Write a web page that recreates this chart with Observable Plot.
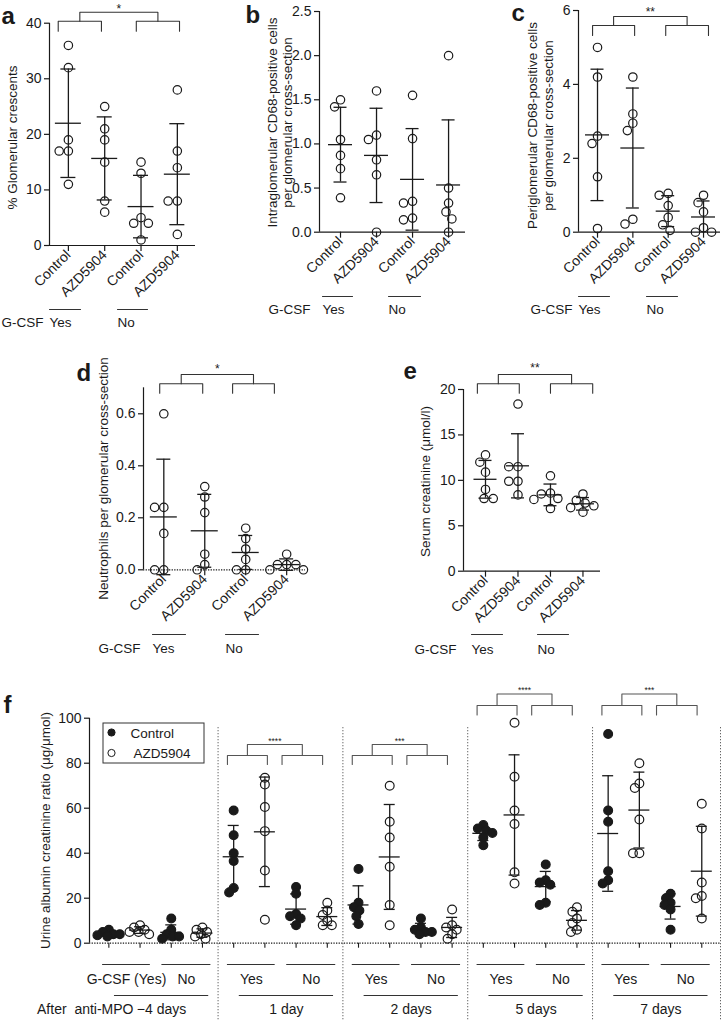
<!DOCTYPE html>
<html><head><meta charset="utf-8">
<script src="https://cdn.jsdelivr.net/npm/d3@7"></script>
<script src="https://cdn.jsdelivr.net/npm/@observablehq/plot@0.6"></script>
<style>
body{margin:0;background:#fff;}
#fig{position:relative;width:722px;height:1021px;overflow:hidden;background:#fff;}
#fig svg{position:absolute;left:0;top:0;}
</style></head><body><div id="fig"></div>
<script>
// ---------------- data ----------------
const catLabels = ["Control", "AZD5904", "Control", "AZD5904"];
const gcsfLabels = ["Yes", "No"];
// each panel: [Control/G-CSF yes, AZD5904/G-CSF yes, Control/no G-CSF, AZD5904/no G-CSF]
const crescents = [[36, 32, 19, 17, 17, 11], [25, 21, 19, 15, 8, 6], [15, 13, 5, 4, 4, 1], [28, 17, 14, 8, 8, 2]];
const intraCD68 = [[1.5, 1.42, 1.05, 0.87, 0.72, 0.39], [1.6, 1.1, 1.05, 0.82, 0.65, 0], [1.55, 1.06, 0.35, 0.33, 0.16, 0.14], [2.0, 0.5, 0.33, 0.23, 0.15, 0]];
const periCD68 = [[5, 4.2, 2.6, 2.4, 1.5, 0.1], [4.2, 3.2, 2.95, 2.75, 0.35, 0.22], [1.05, 1.0, 0.72, 0.4, 0.2, 0.05], [1.0, 0.8, 0.55, 0.12, 0, 0]];
const neutrophils = [[0.6, 0.24, 0.24, 0.14, 0, 0], [0.32, 0.28, 0.22, 0.06, 0.02, 0], [0.16, 0.12, 0.08, 0.04, 0, 0], [0.06, 0.02, 0.02, 0.02, 0, 0]];
const creatinine = [[12.8, 12, 10.9, 9, 8, 8], [18.4, 11.5, 11.5, 9.9, 9.9, 8.4], [10.5, 8.6, 8.5, 8, 7.9, 6.9], [8.5, 7.8, 7.5, 7.2, 7, 6.5]];
const panelStars = {a: "*", c: "**", d: "*", e: "**"};

// panel f: urine albumin creatinine ratio by time point
const timeLabels = ["\u22124 days", "1 day", "2 days", "5 days", "7 days"];
const fYesLabels = ["G-CSF (Yes)", "Yes", "Yes", "Yes", "Yes"];
const fNoLabels = ["No", "No", "No", "No", "No"];
const fStars = ["", "****", "***", "****", "***"];
const uacrControlYes = [[6, 5, 4, 4, 3.5, 3], [59, 48, 40, 36.5, 24.5, 22.5], [33, 18, 16, 14.5, 12, 8.5], [52.5, 51, 50, 49, 47, 43.5], [93, 59, 54, 32, 28, 26.5]];
const uacrAZDYes = [[8, 7, 6, 5, 5, 4], [73.5, 70.5, 60.5, 49.8, 32.3, 10.4], [70, 54, 47, 34, 17, 8], [98, 74, 59, 53, 31.5, 26.5], [80, 71, 69, 55, 40, 40]];
const uacrControlNo = [[11, 6, 4, 3, 3, 2], [25, 22, 13, 12, 11, 8], [11, 7, 6, 5, 5, 4], [35, 28, 27, 26, 18, 17], [22, 20, 18, 17, 15, 6]];
const uacrAZDNo = [[7, 6, 5, 4, 3, 2], [18, 14.5, 12.5, 10, 8, 8], [15, 8, 7, 6, 4, 2], [16, 14, 11, 9, 6, 5], [62, 51, 27, 21, 20, 11]];

// ---------------- layout helpers ----------------
const W = 722, H = 1021;
const FONT = '"Liberation Sans", Arial, Helvetica, sans-serif';
const NARROW = '"Liberation Sans Narrow", "Arial Narrow", "Liberation Sans", Arial, sans-serif';
const INK = "#1a1a1a";
const fig = document.getElementById("fig");

function swarm(values, ky, r) {
  const order = values.map((v, k) => k).sort((a, b) => values[b] - values[a]);
  const placed = [];
  const d2 = 4 * r * r;
  for (const k of order) {
    const py = values[k] * ky;
    const cands = [0];
    for (const q of placed) {
      const dy = q.py - py;
      if (dy * dy < d2) { const dx = Math.sqrt(d2 - dy * dy); cands.push(q.dx - dx, q.dx + dx); }
    }
    cands.sort((a, b) => Math.abs(a) - Math.abs(b) || a - b);
    const c = cands.find(c => placed.every(q => (q.dx - c) ** 2 + (q.py - py) ** 2 >= d2 - 0.01));
    placed.push({v: values[k], py, dx: c ?? 0});
  }
  return placed;
}

function build(cfg) {
  const {x0, x1, y0, y1, xd, yd} = cfg;
  const kx = (x1 - x0) / (xd[1] - xd[0]);
  const ky = (y0 - y1) / (yd[1] - yd[0]);
  const ix = px => xd[0] + (px - x0) / kx;
  const iy = py => yd[0] + (y0 - py) / ky;
  const points = [], stats = [];
  for (const s of cfg.series) {
    const placed = swarm(s.values, ky, cfg.sr ?? cfg.r + 0.4);
    for (const p of placed) points.push({x: s.i + p.dx / kx, y: p.v, filled: s.filled});
    const mean = d3.mean(s.values), sd = d3.deviation(s.values);
    let lo = mean - sd;
    const hi = mean + sd;
    let loCap = true;
    if (cfg.clipLo && lo < yd[0]) { lo = yd[0]; loCap = false; }
    stats.push({x: s.i, mean, lo, hi, loCap});
  }
  const mh = cfg.meanHalf / kx, ch = cfg.capHalf / kx;
  const ctx = {
    ix, iy, kx, ky,
    T: (px, py, t, o = {}) => Plot.text([{x: ix(px), y: iy(py), t}], {x: "x", y: "y", text: "t", fontSize: 13.5, fill: INK, lineAnchor: "bottom", ...o}),
    L: (pts, o = {}) => Plot.line(pts.map(([px, py]) => ({x: ix(px), y: iy(py)})), {x: "x", y: "y", stroke: INK, strokeWidth: 1.1, ...o}),
    bracket: (xs, yb, yh, yt, star, sy, o = {}) => {
      const [l1, r1, l2, r2] = xs;
      const m1 = (l1 + r1) / 2, m2 = (l2 + r2) / 2;
      const pts = [
        [0, l1, yb], [0, l1, yh], [0, r1, yh], [0, r1, yb],
        [1, l2, yb], [1, l2, yh], [1, r2, yh], [1, r2, yb],
        [2, m1, yh], [2, m1, yt], [2, m2, yt], [2, m2, yh]
      ].map(([z, x, py]) => ({z, x, y: iy(py)}));
      return [
        Plot.line(pts, {x: "x", y: "y", z: "z", stroke: o.stroke ?? "#333", strokeWidth: 1.1}),
        Plot.text([{x: (m1 + m2) / 2, y: iy(sy), t: star}], {x: "x", y: "y", text: "t", fontSize: o.starSize ?? 12, fill: INK, lineAnchor: "bottom"})
      ];
    }
  };
  const marks = [
    Plot.ruleX([xd[0]], {y1: yd[0], y2: cfg.yTop ?? yd[1], stroke: INK, strokeWidth: 1.2}),
    Plot.axisY({ticks: cfg.ticks, tickFormat: cfg.fmt, tickSize: 5, tickPadding: 3, fontSize: cfg.tickFont ?? 14, label: null, strokeWidth: 1.2}),
    Plot.ruleY([yd[0]], {x1: xd[0], x2: xd[1], stroke: INK, strokeWidth: 1.2, strokeDasharray: cfg.dotted ? "1.3,1.3" : null}),
    cfg.xLabels
      ? Plot.axisX({ticks: cfg.xTicks, tickFormat: i => cfg.xLabels[i], tickRotate: -45, tickSize: 6, tickPadding: 1, fontSize: cfg.tickFont ?? 14, label: null, strokeWidth: 1.2})
      : Plot.axisX({ticks: cfg.xTicks, tickFormat: () => "", tickSize: 5, label: null, strokeWidth: 1.1}),
    Plot.ruleX(stats, {x: "x", y1: "lo", y2: "hi", stroke: INK, strokeWidth: 1.3}),
    Plot.ruleY(stats, {y: "mean", x1: d => d.x - mh, x2: d => d.x + mh, stroke: INK, strokeWidth: 1.3}),
    Plot.ruleY(stats, {y: "hi", x1: d => d.x - ch, x2: d => d.x + ch, stroke: INK, strokeWidth: 1.3}),
    Plot.ruleY(stats.filter(d => d.loCap), {y: "lo", x1: d => d.x - ch, x2: d => d.x + ch, stroke: INK, strokeWidth: 1.3}),
    Plot.dot(points, {x: "x", y: "y", r: cfg.r, fill: d => d.filled ? INK : "none", stroke: INK, strokeWidth: 1.2}),
    ...cfg.extras(ctx)
  ];
  const svg = Plot.plot({
    width: W, height: H,
    marginLeft: x0, marginRight: W - x1, marginTop: y1, marginBottom: H - y0,
    x: {type: "linear", domain: xd},
    y: {type: "linear", domain: yd},
    style: {background: "transparent", fontFamily: FONT, color: INK, overflow: "visible"},
    marks
  });
  fig.appendChild(svg);
}

const fourSeries = vals => vals.map((values, i) => ({i, values, filled: false}));
const title = (T, px, py, s) => T(px, py, s, {fontSize: 24, fontWeight: "bold", textAnchor: "start"});
const ylab = (T, px, py, s) => T(px, py, s, {rotate: -90, lineAnchor: "middle", textAnchor: "middle"});
const gcsfRow = (ctx, yLine, yText, lines, gEnd) => [
  ctx.L([[lines[0][0], yLine], [lines[0][1], yLine]], {stroke: "#333"}),
  ctx.L([[lines[1][0], yLine], [lines[1][1], yLine]], {stroke: "#333"}),
  ctx.T(gEnd, yText, "G-CSF", {textAnchor: "end"}),
  ctx.T(lines[0][0], yText, gcsfLabels[0], {textAnchor: "start"}),
  ctx.T(lines[1][0], yText, gcsfLabels[1], {textAnchor: "start"})
];

// ---------------- panel a ----------------
build({
  x0: 49, x1: 195, y0: 245, y1: 22.7, xd: [-0.52, 3.5], yd: [0, 40],
  ticks: [0, 10, 20, 30, 40], fmt: d => d, xTicks: [0, 1, 2, 3], xLabels: catLabels,
  series: fourSeries(crescents), r: 4.2, meanHalf: 13, capHalf: 7.5, clipLo: true,
  extras: c => [
    title(c.T, 1, 23, "a"),
    ylab(c.T, 12, 137, "% Glomerular crescents"),
    ...c.bracket([-0.28, 0.91, 1.87, 3.06], 30.7, 20.7, 11.7, panelStars.a, 12),
    ...gcsfRow(c, 309, 326, [[49, 80], [117, 147]], 43)
  ]
});

// ---------------- panel b ----------------
build({
  x0: 319, x1: 465, y0: 231.7, y1: 11, xd: [-0.583, 3.47], yd: [0, 2.5],
  ticks: [0, 0.5, 1, 1.5, 2, 2.5], fmt: d3.format(".1f"), xTicks: [0, 1, 2, 3], xLabels: catLabels,
  series: fourSeries(intraCD68), r: 4.2, meanHalf: 12, capHalf: 6.5, clipLo: true,
  extras: c => [
    title(c.T, 245, 22, "b"),
    ylab(c.T, 272, 122, "Intraglomerular CD68-positive cells"),
    ylab(c.T, 287, 122, "per glomerular cross-section"),
    ...gcsfRow(c, 296, 313, [[322, 352], [388, 420]], 310)
  ]
});

// ---------------- panel c ----------------
build({
  x0: 578, x1: 720, y0: 231.7, y1: 10, xd: [-0.538, 3.48], yd: [0, 6],
  ticks: [0, 2, 4, 6], fmt: d => d, xTicks: [0, 1, 2, 3], xLabels: catLabels,
  series: fourSeries(periCD68), r: 4.2, meanHalf: 12, capHalf: 6.5, clipLo: true,
  extras: c => [
    title(c.T, 511, 20, "c"),
    ylab(c.T, 532, 125, "Periglomerular CD68-positive cells"),
    ylab(c.T, 548, 125, "per glomerular cross-section"),
    ...c.bracket([-0.14, 1.05, 1.93, 3.14], 35, 25, 16, panelStars.c, 15),
    ...gcsfRow(c, 296, 313, [[578, 609], [646, 677]], 572)
  ]
});

// ---------------- panel d ----------------
build({
  x0: 143, x1: 305, y0: 569.3, y1: 387.3, xd: [-0.496, 3.46], yd: [0, 0.7],
  ticks: [0, 0.2, 0.4, 0.6], fmt: d3.format(".1f"), xTicks: [0, 1, 2, 3], xLabels: catLabels,
  series: fourSeries(neutrophils), r: 4.2, meanHalf: 13.5, capHalf: 7, clipLo: false, dotted: true,
  extras: c => [
    title(c.T, 76, 380, "d"),
    ylab(c.T, 103, 478, "Neutrophils per glomerular cross-section"),
    ...c.bracket([-0.1, 0.95, 1.68, 2.7], 392.7, 383.3, 374, panelStars.d, 372),
    ...gcsfRow(c, 634, 652, [[152, 185], [225, 258]], 140)
  ]
});

// ---------------- panel e ----------------
build({
  x0: 463, x1: 600, y0: 570.7, y1: 389, xd: [-0.677, 3.54], yd: [0, 20],
  ticks: [0, 5, 10, 15, 20], fmt: d => d, xTicks: [0, 1, 2, 3], xLabels: catLabels,
  series: fourSeries(creatinine), r: 4.2, meanHalf: 11.5, capHalf: 6.5, clipLo: true,
  extras: c => [
    title(c.T, 403, 378, "e"),
    ylab(c.T, 425, 481, "Serum creatinine (\u03bcmol/l)"),
    ...c.bracket([-0.25, 1.04, 2.0, 3.3], 392.7, 383.3, 374, panelStars.e, 371),
    ...gcsfRow(c, 634, 653, [[471, 502], [537, 568]], 456)
  ]
});

// ---------------- panel f ----------------
const fSeries = [];
timeLabels.forEach((t, g) => {
  fSeries.push({i: 4 * g, values: uacrControlYes[g], filled: true});
  fSeries.push({i: 4 * g + 1, values: uacrAZDYes[g], filled: false});
  fSeries.push({i: 4 * g + 2, values: uacrControlNo[g], filled: true});
  fSeries.push({i: 4 * g + 3, values: uacrAZDNo[g], filled: false});
});
build({
  x0: 89, x1: 720, y0: 942.7, y1: 717.7, xd: [-0.62, 19.6], yd: [0, 100],
  ticks: [0, 20, 40, 60, 80, 100], fmt: d => d, xTicks: d3.range(20), xLabels: null,
  series: fSeries, r: 4.4, sr: 3.2, meanHalf: 10.5, capHalf: 5.5, clipLo: true, dotted: true,
  extras: c => {
    const m = [
      title(c.T, 3, 712, "f"),
      ylab(c.T, 45, 830, "Urine albumin creatinine ratio (\u03bcg/\u03bcmol)"),
      Plot.ruleX([3.5, 7.5, 11.5, 15.5, 19.6], {y1: c.iy(727), y2: c.iy(1021), stroke: "#666", strokeWidth: 1, strokeDasharray: "1.3,1.7"}),
      // legend
      Plot.rect([{x1: c.ix(103), x2: c.ix(204), y1: c.iy(763), y2: c.iy(723)}], {x1: "x1", x2: "x2", y1: "y1", y2: "y2", fill: "white", stroke: "#333", strokeWidth: 1}),
      Plot.dot([{x: c.ix(111), y: c.iy(732), f: true}, {x: c.ix(111), y: c.iy(752.5), f: false}], {x: "x", y: "y", r: 3.6, fill: d => d.f ? INK : "white", stroke: INK, strokeWidth: 1}),
      c.T(130, 737, "Control", {textAnchor: "start"}),
      c.T(133, 757.5, "AZD5904", {textAnchor: "start"}),
      c.T(133, 1013, "After  anti-MPO", {textAnchor: "end", fontFamily: NARROW, fontSize: 14})
    ];
    timeLabels.forEach((t, g) => {
      const b = 4 * g;
      m.push(Plot.ruleY([c.iy(964)], {x1: b - 0.2, x2: b + 1.33, stroke: "#333", strokeWidth: 1.1}));
      m.push(Plot.ruleY([c.iy(964)], {x1: b + 1.7, x2: b + 3.27, stroke: "#333", strokeWidth: 1.1}));
      m.push(Plot.ruleY([c.iy(995)], {x1: b + 0.18, x2: b + 3.2, stroke: "#333", strokeWidth: 1.1}));
      m.push(Plot.text([{x: b + 0.565, y: c.iy(983), t: fYesLabels[g]}, {x: b + 2.485, y: c.iy(983), t: fNoLabels[g]}, {x: b + 1.69, y: c.iy(1013), t}],
        {x: "x", y: "y", text: "t", fontSize: 14, fontFamily: NARROW, fill: INK, lineAnchor: "bottom"}));
      if (fStars[g]) {
        const hi = g >= 3;
        m.push(...c.bracket([b - 0.2, b + 1.08, b + 1.55, b + 2.85], hi ? 714.5 : 764, hi ? 705 : 755, hi ? 693.5 : 744, fStars[g], hi ? 692 : 743, {stroke: "#555", starSize: 8.5}));
      }
    });
    return m;
  }
});
</script></body></html>
